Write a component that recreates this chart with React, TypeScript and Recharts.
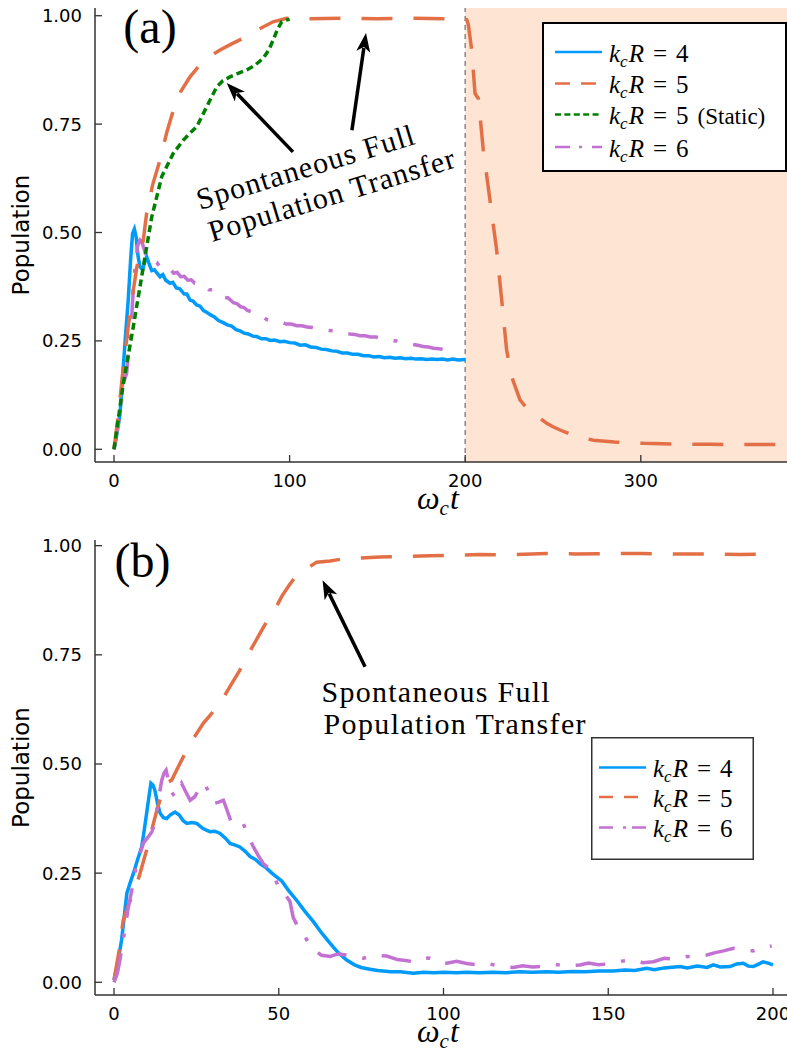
import { LineChart, Line, XAxis, YAxis, Legend, ReferenceArea, ReferenceLine, ReferenceDot } from "recharts";

// ---- panel (a) data : [ωc t, population] ----
const topBlue = [
  [0, 0], [1, 0.02], [2, 0.045], [3.4, 0.08], [4.3, 0.13], [5.3, 0.19], [6.5, 0.26], [8.1, 0.344], [9.5, 0.44], [10.6, 0.498],
  [11.6, 0.508], [12.6, 0.49], [13.7, 0.445], [14.8, 0.421], [16.3, 0.414], [17.5, 0.432], [18.6, 0.444], [19.8, 0.43], [21.5, 0.412],
  [23, 0.414], [24.5, 0.406], [26.2, 0.398], [27.8, 0.403], [29.5, 0.39], [31.9, 0.383], [33.5, 0.385], [35.5, 0.372], [37.5, 0.37],
  [40, 0.358], [41.5, 0.358], [43.3, 0.344], [45, 0.342], [47, 0.333], [49, 0.33], [51, 0.32], [52.8, 0.316], [55, 0.31], [57, 0.306],
  [59.5, 0.297], [62.2, 0.292], [64.5, 0.287], [67, 0.284], [69.5, 0.276], [71.8, 0.273], [74, 0.268], [76.5, 0.266], [79, 0.261],
  [81.3, 0.26], [84, 0.255], [86.5, 0.255], [89, 0.251], [91.5, 0.252], [94.5, 0.248], [97, 0.249], [100, 0.246], [103, 0.245],
  [106, 0.24], [109, 0.241], [112, 0.236], [115, 0.235], [118, 0.231], [121, 0.23], [124, 0.227], [127, 0.226], [130, 0.222],
  [133, 0.222], [136, 0.219], [139, 0.219], [142, 0.216], [145, 0.216], [148, 0.213], [151, 0.214], [154, 0.211], [157, 0.212],
  [160, 0.21], [163, 0.211], [166, 0.209], [169, 0.21], [172, 0.208], [175, 0.209], [178, 0.207], [181, 0.208], [184, 0.207],
  [187, 0.208], [190, 0.206], [193, 0.208], [196, 0.206], [200, 0.207],
];

const topOrange = [
  [0, 0], [2.5, 0.08], [5.3, 0.19], [8, 0.28], [11, 0.367], [13, 0.42], [16.7, 0.483], [18.6, 0.545], [22, 0.61], [26.2, 0.667],
  [30, 0.73], [33.8, 0.782], [38, 0.825], [43.3, 0.859], [48, 0.882], [54, 0.905], [60.4, 0.921], [67, 0.935], [75.6, 0.952],
  [83, 0.97], [90.6, 0.986], [98.3, 0.994], [110, 0.993], [130, 0.994], [150, 0.993], [170, 0.994], [190, 0.993], [200, 0.993],
  [201, 0.99], [201.8, 0.979], [203.7, 0.921], [205.6, 0.821], [207.5, 0.809], [209.4, 0.729], [210.3, 0.69], [214.1, 0.575],
  [217.9, 0.46], [220.8, 0.344], [223.6, 0.229], [226.5, 0.167], [231.2, 0.114], [235, 0.095], [240.7, 0.083], [243, 0.07],
  [246.4, 0.06], [250, 0.052], [254, 0.0445], [263, 0.03], [273, 0.021], [285, 0.017], [301.4, 0.0138], [320, 0.012],
  [339.4, 0.0115], [360, 0.011], [380, 0.011],
];

const topGreen = [
  [0, 0], [5.3, 0.152], [11, 0.283], [16.7, 0.421], [21.5, 0.536], [27.2, 0.629], [33.8, 0.683], [39.5, 0.713], [43, 0.728],
  [47.1, 0.744], [52.8, 0.79], [58.5, 0.836], [62, 0.85], [66.1, 0.859], [70, 0.866], [75.6, 0.875], [80, 0.885], [85, 0.902],
  [88, 0.92], [90.7, 0.944], [93, 0.968], [95.5, 0.986], [98, 0.99], [100, 0.992],
];

const topPurple = [
  [0, 0], [1.5, 0.037], [3, 0.07], [4.4, 0.114], [5.5, 0.155], [7.2, 0.175], [8.5, 0.24], [10.1, 0.306], [11, 0.37], [12, 0.421],
  [13.5, 0.47], [14.8, 0.483], [15.8, 0.48], [16.7, 0.467], [18, 0.45], [19.5, 0.437], [21, 0.44], [22.5, 0.432], [24.3, 0.431],
  [26, 0.422], [28, 0.424], [30, 0.414], [31.9, 0.416], [34, 0.406], [36, 0.408], [38, 0.398], [40, 0.399], [42, 0.39], [44, 0.391],
  [46, 0.383], [48, 0.383], [50, 0.375], [52, 0.376], [54, 0.368], [56, 0.368], [58.5, 0.36], [61, 0.359], [63, 0.35], [65, 0.349],
  [68, 0.338], [70, 0.336], [72, 0.329], [74, 0.327], [76, 0.32], [79.4, 0.316], [82, 0.308], [84.5, 0.307], [87, 0.299], [90, 0.298],
  [92.5, 0.293], [95, 0.293], [98, 0.289], [101, 0.289], [104, 0.285], [107, 0.285], [110, 0.282], [113, 0.281], [116.3, 0.278],
  [119, 0.277], [122, 0.274], [125, 0.273], [128, 0.27], [131, 0.269], [134.4, 0.266], [137, 0.265], [140, 0.262], [143, 0.262],
  [146, 0.259], [149, 0.259], [152, 0.256], [155, 0.255], [158, 0.251], [161, 0.25], [164, 0.247], [167, 0.245], [170, 0.242],
  [173, 0.24], [176, 0.237], [179, 0.236], [182, 0.233], [185, 0.232], [188, 0.23], [191, 0.229], [194, 0.227], [196, 0.226],
];

// ---- panel (b) data ----
const botBlue = [
  [0, 0.005], [1, 0.04], [2.3, 0.097], [3.1, 0.15], [3.9, 0.204], [5, 0.23], [5.9, 0.25], [7, 0.277], [8.4, 0.31], [9.2, 0.35],
  [9.9, 0.387], [10.6, 0.425], [11.2, 0.456], [11.8, 0.452], [12.4, 0.44], [13.2, 0.41], [14, 0.387], [15, 0.377], [16, 0.375],
  [17.2, 0.384], [18.5, 0.39], [19.8, 0.383], [21, 0.37], [22.1, 0.364], [23.6, 0.366], [25.1, 0.364], [27, 0.352], [29.1, 0.345],
  [30.6, 0.346], [32.2, 0.341], [33.8, 0.33], [35.2, 0.318], [36.8, 0.314], [38.2, 0.31], [39.8, 0.3], [41.3, 0.288], [42.8, 0.282],
  [44.3, 0.272], [46.2, 0.262], [47.9, 0.25], [49.4, 0.241], [50.9, 0.232], [53, 0.21], [55.4, 0.188], [58, 0.162], [60.5, 0.139],
  [63, 0.113], [65.6, 0.089], [68, 0.068], [70.6, 0.051], [73, 0.04], [75, 0.034], [77.7, 0.03], [80, 0.027], [84, 0.024],
  [87, 0.024], [90.8, 0.021], [94, 0.023], [97, 0.022], [100, 0.023], [104, 0.022], [107, 0.023], [111, 0.022], [115, 0.023],
  [119, 0.022], [123, 0.024], [127, 0.023], [131.3, 0.024], [135, 0.023], [139, 0.025], [143, 0.024], [147, 0.026], [151.5, 0.026],
  [155, 0.028], [158, 0.027], [161.7, 0.032], [164, 0.029], [167, 0.033], [171.8, 0.036], [174, 0.033], [177, 0.037], [180, 0.034],
  [181.9, 0.04], [184, 0.035], [187, 0.036], [189, 0.042], [191, 0.0435], [192.5, 0.037], [194, 0.036], [195.5, 0.041], [197, 0.047],
  [198.5, 0.044], [200, 0.04],
];

const botOrange = [
  [0, 0.005], [1.5, 0.07], [2.8, 0.143], [4.5, 0.18], [6.4, 0.211], [7.9, 0.25], [9.9, 0.303], [11.5, 0.35], [13, 0.394],
  [15.5, 0.455], [17.5, 0.463], [20, 0.501], [23.1, 0.547], [27.1, 0.593], [32.2, 0.639], [35, 0.675], [38.2, 0.715], [41, 0.755],
  [44.3, 0.799], [47, 0.835], [49.4, 0.862], [51, 0.885], [53.4, 0.912], [55, 0.928], [58.5, 0.948], [61.5, 0.962], [65.6, 0.965],
  [70.6, 0.971], [75, 0.972], [80.7, 0.974], [88, 0.975], [95.9, 0.977], [103, 0.978], [111, 0.98], [120, 0.979], [131.3, 0.982],
  [140, 0.981], [151.5, 0.982], [160, 0.982], [171.8, 0.981], [180, 0.981], [190, 0.98], [200, 0.981],
];

const botPurple = [
  [0, 0], [1, 0.02], [1.8, 0.051], [3.3, 0.12], [4.3, 0.17], [5.4, 0.211], [6.6, 0.26], [7.9, 0.295], [9, 0.32], [10.4, 0.333],
  [11.5, 0.345], [12.4, 0.364], [13.5, 0.42], [14.5, 0.463], [15.2, 0.48], [15.8, 0.486], [16.4, 0.465], [17, 0.44], [18, 0.43],
  [18.5, 0.425], [19.5, 0.44], [20.5, 0.456], [21.8, 0.436], [23.1, 0.417], [24.5, 0.425], [26, 0.445], [27.6, 0.456], [28.8, 0.432],
  [30.1, 0.41], [31.6, 0.412], [33.2, 0.417], [34.5, 0.39], [35.7, 0.364], [37.5, 0.36], [39.2, 0.364], [40.8, 0.335], [42.3, 0.31],
  [43.8, 0.29], [45.3, 0.272], [46.8, 0.262], [48.3, 0.25], [49.3, 0.23], [50.4, 0.208], [52, 0.2], [53.4, 0.185], [54.4, 0.148],
  [56, 0.125], [57.5, 0.112], [59, 0.09], [60.5, 0.074], [63, 0.062], [65.6, 0.059], [68, 0.065], [70.6, 0.0625], [73, 0.057],
  [75.7, 0.055], [79, 0.062], [82.8, 0.06], [86, 0.052], [88.5, 0.05], [90.8, 0.047], [93.5, 0.056], [95.9, 0.055], [98.5, 0.046],
  [101, 0.0435], [104, 0.048], [107, 0.043], [111, 0.0396], [114, 0.042], [117, 0.037], [121.2, 0.034], [124, 0.038], [127, 0.035],
  [131.3, 0.037], [134, 0.041], [137, 0.037], [141.4, 0.0396], [144, 0.044], [147, 0.04], [151.5, 0.0435], [154.5, 0.049],
  [157.6, 0.051], [160.5, 0.045], [163.7, 0.047], [167, 0.055], [170, 0.053], [173.8, 0.059], [177, 0.06], [179.9, 0.0625],
  [182.5, 0.068], [185, 0.072], [188, 0.078], [191, 0.074], [194, 0.072], [197, 0.08], [199.6, 0.083],
];

const topXTicks = [0, 100, 200, 300];
const botXTicks = [0, 50, 100, 150, 200];
const yTicks = [0, 0.25, 0.5, 0.75, 1];

const BLUE = "#009AFA";
const ORANGE = "#E36F47";
const GREEN = "#008000";
const PURPLE = "#C371D2";
const AXIS = "#333";
const SANS = "'DejaVu Sans', sans-serif";
const SERIF = "'Liberation Serif', serif";

const pts = (arr: number[][]) => arr.map(([t, p]) => ({ t, p }));

function XTick({ x, y, payload }: any) {
  return (
    <g>
      <line x1={x} x2={x} y1={y} y2={y - 7} stroke={AXIS} strokeWidth={1.3} />
      <text x={x} y={y + 25} textAnchor="middle" fontFamily={SANS} fontSize={18} fill="#000">
        {payload.value}
      </text>
    </g>
  );
}

function YTick({ x, y, payload }: any) {
  return (
    <g>
      <line x1={x} x2={x + 7} y1={y} y2={y} stroke={AXIS} strokeWidth={1.3} />
      <text x={x - 13} y={y + 6.5} textAnchor="end" fontFamily={SANS} fontSize={18} fill="#000">
        {payload.value.toFixed(2)}
      </text>
    </g>
  );
}

function xLabel({ viewBox }: any) {
  const cx = viewBox.x + viewBox.width / 2;
  return (
    <text x={cx - 24} y={viewBox.y + 47} fontFamily={SERIF} fontSize={32} fontStyle="italic" fill="#000">
      <tspan>ω</tspan>
      <tspan fontSize={21} dy={6}>c</tspan>
      <tspan dy={-6} dx={1}>t</tspan>
    </text>
  );
}

function yLabel({ viewBox }: any) {
  const cy = viewBox.y + viewBox.height / 2;
  return (
    <text x={29} y={cy} transform={`rotate(-90, 29, ${cy})`} textAnchor="middle" fontFamily={SANS} fontSize={23} fill="#000">
      Population
    </text>
  );
}

function Arrow(props: any) {
  const { x1, y1, x2, y2 } = props;
  const a = Math.atan2(y2 - y1, x2 - x1);
  const L = 19;
  const W = 7;
  const bx = x2 - L * Math.cos(a);
  const by = y2 - L * Math.sin(a);
  const nx = -Math.sin(a) * W;
  const ny = Math.cos(a) * W;
  return (
    <g>
      <line x1={x1} y1={y1} x2={bx + 4 * Math.cos(a)} y2={by + 4 * Math.sin(a)} stroke="#000" strokeWidth={3.5} />
      <polygon points={`${x2},${y2} ${bx + nx},${by + ny} ${bx + 5 * Math.cos(a)},${by + 5 * Math.sin(a)} ${bx - nx},${by - ny}`} fill="#000" />
    </g>
  );
}

function note(lines: string[], lengths: number[], angle: number, gap: number) {
  return ({ cx, cy }: any) => (
    <g transform={`translate(${cx}, ${cy}) rotate(${angle})`}>
      {lines.map((s, i) => (
        <text key={s} x={i * 2} y={i * gap} fontFamily={SERIF} fontSize={30} fill="#000" textLength={lengths[i]} lengthAdjust="spacing">
          {s}
        </text>
      ))}
    </g>
  );
}

function panelTag(s: string) {
  return ({ cx, cy }: any) => (
    <text x={cx} y={cy} textAnchor="middle" fontFamily={SERIF} fontSize={48} fill="#000">
      {s}
    </text>
  );
}

interface Item { v: string; color: string; dash?: string; extra?: string }

function legendContent(items: Item[], w: number, h: number, rowY: number[], lx1: number, lx2: number, tx: number, sw: number, stroke: string) {
  return () => (
    <svg width={w} height={h} style={{ display: "block" }}>
      <rect x={sw / 2} y={sw / 2} width={w - sw} height={h - sw} fill="#fff" stroke={stroke} strokeWidth={sw} />
      {items.map((it, i) => (
        <g key={i}>
          <line x1={lx1} x2={lx2} y1={rowY[i]} y2={rowY[i]} stroke={it.color} strokeWidth={2.5} strokeDasharray={it.dash} />
          <text x={tx} y={rowY[i] + 9.5} fontFamily={SERIF} fontSize={25} fill="#000">
            <tspan fontStyle="italic">k</tspan>
            <tspan fontStyle="italic" fontSize={17} dy={5}>c</tspan>
            <tspan fontStyle="italic" dy={-5} dx={1}>R</tspan>
            <tspan dx={9}>=</tspan>
            <tspan dx={9}>{it.v}</tspan>
            {it.extra && <tspan dx={9} fontSize={23}>{it.extra}</tspan>}
          </text>
        </g>
      ))}
    </svg>
  );
}

const topItems: Item[] = [
  { v: "4", color: BLUE },
  { v: "5", color: ORANGE, dash: "15 11" },
  { v: "5", color: GREEN, dash: "6 3.4", extra: "(Static)" },
  { v: "6", color: PURPLE, dash: "15 9 3 10" },
];

const botItems: Item[] = [
  { v: "4", color: BLUE },
  { v: "5", color: ORANGE, dash: "14 11" },
  { v: "6", color: PURPLE, dash: "14 10 3 6" },
];

export default function App() {
  return (
    <div style={{ position: "absolute", left: 0, top: 0, width: 787, height: 1059, background: "#fff" }}>
      <LineChart width={787} height={530} margin={{ top: 8, right: 0, bottom: 0, left: 0 }}>
        <ReferenceArea x1={200} fill="#FDE4D3" fillOpacity={1} stroke="none" />
        <ReferenceLine x={200} stroke="#888" strokeWidth={1.5} strokeDasharray="5 4" />
        <XAxis type="number" dataKey="t" domain={[-10.82, 383.26]} allowDataOverflow ticks={topXTicks}
          tick={XTick} tickSize={0} tickMargin={0} height={68} axisLine={{ stroke: AXIS, strokeWidth: 1.5 }} label={xLabel} />
        <YAxis type="number" domain={[-0.0293, 1.0178]} allowDataOverflow ticks={yTicks}
          tick={YTick} tickSize={0} tickMargin={0} width={95} axisLine={{ stroke: AXIS, strokeWidth: 1.5 }} label={yLabel} />
        <Line data={pts(topBlue)} dataKey="p" stroke={BLUE} strokeWidth={3.5} dot={false} activeDot={false} isAnimationActive={false} />
        <Line data={pts(topPurple)} dataKey="p" stroke={PURPLE} strokeWidth={3.5} strokeDasharray="30 16 4 16" dot={false} activeDot={false} isAnimationActive={false} />
        <Line data={pts(topOrange)} dataKey="p" stroke={ORANGE} strokeWidth={3.5} strokeDasharray="31 21" dot={false} activeDot={false} isAnimationActive={false} />
        <Line data={pts(topGreen)} dataKey="p" stroke={GREEN} strokeWidth={3.5} strokeDasharray="7 4" dot={false} activeDot={false} isAnimationActive={false} />
        <ReferenceLine segment={[{ x: 101.9, y: 0.686 }, { x: 64.2, y: 0.845 }]} shape={Arrow} />
        <ReferenceLine segment={[{ x: 135.5, y: 0.736 }, { x: 143.5, y: 0.96 }]} shape={Arrow} />
        <ReferenceDot x={49} y={0.552} r={0} shape={note(["Spontaneous Full", "Population Transfer"], [226, 256], -17, 34)} />
        <ReferenceDot x={20.5} y={0.936} r={0} shape={panelTag("(a)")} />
        <Legend layout="vertical" align="center" verticalAlign="middle"
          wrapperStyle={{ left: 542, top: 21.7, width: 245, height: 150 }}
          content={legendContent(topItems, 245, 150, [30, 61.6, 92.6, 125], 13, 60, 67, 2, "#000")} />
      </LineChart>

      <LineChart width={787} height={529} margin={{ top: 10, right: 0, bottom: 0, left: 0 }}>
        <XAxis type="number" dataKey="t" domain={[-5.77, 204.25]} allowDataOverflow ticks={botXTicks}
          tick={XTick} tickSize={0} tickMargin={0} height={64} axisLine={{ stroke: AXIS, strokeWidth: 1.5 }} label={xLabel} />
        <YAxis type="number" domain={[-0.0291, 1.013]} allowDataOverflow ticks={yTicks}
          tick={YTick} tickSize={0} tickMargin={0} width={95} axisLine={{ stroke: AXIS, strokeWidth: 1.5 }} label={yLabel} />
        <Line data={pts(botBlue)} dataKey="p" stroke={BLUE} strokeWidth={3.5} dot={false} activeDot={false} isAnimationActive={false} />
        <Line data={pts(botOrange)} dataKey="p" stroke={ORANGE} strokeWidth={3.5} strokeDasharray="31 21" dot={false} activeDot={false} isAnimationActive={false} />
        <Line data={pts(botPurple)} dataKey="p" stroke={PURPLE} strokeWidth={3.5} strokeDasharray="30 16 4 16" dot={false} activeDot={false} isAnimationActive={false} />
        <ReferenceLine segment={[{ x: 76.2, y: 0.7225 }, { x: 63.3, y: 0.921 }]} shape={Arrow} />
        <ReferenceDot x={63} y={0.6424} r={0} shape={note(["Spontaneous Full", "Population Transfer"], [228, 262], 0, 32)} />
        <ReferenceDot x={8.65} y={0.9286} r={0} shape={panelTag("(b)")} />
        <Legend layout="vertical" align="center" verticalAlign="middle"
          wrapperStyle={{ left: 591, top: 206.7, width: 163, height: 123 }}
          content={legendContent(botItems, 163, 123, [30.6, 60, 90.6], 8, 55, 62, 1.5, "#333")} />
      </LineChart>
    </div>
  );
}
